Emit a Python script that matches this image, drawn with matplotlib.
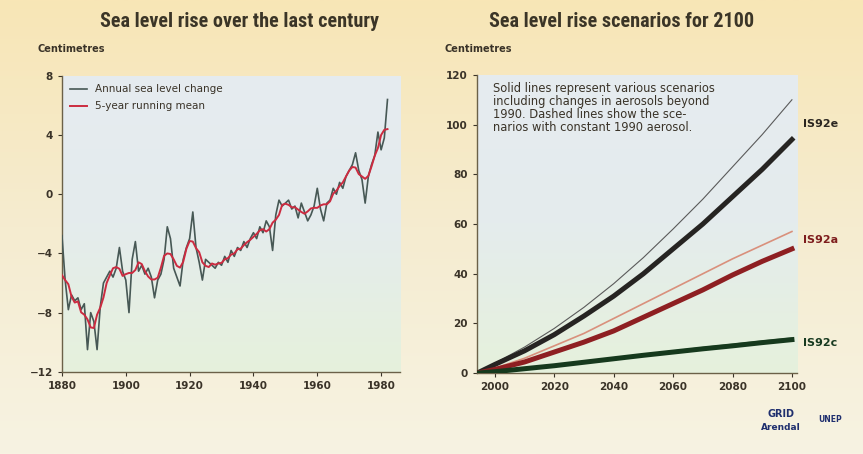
import numpy as np
import pandas as pd
import matplotlib
matplotlib.use("Agg")
import matplotlib.pyplot as plt
from matplotlib.colors import LinearSegmentedColormap

# ---- data: observed sea level (cm), 1880-1982
years_obs = np.arange(1880, 1983)
annual = [
    -2.8, -5.8, -7.8, -6.8, -7.2, -7.0, -7.8, -7.4, -10.5, -8.0,
    -8.6, -10.5, -7.6, -6.0, -5.6, -5.2, -5.6, -5.0, -3.6, -5.2,
    -5.8, -8.0, -4.4, -3.2, -5.2, -4.8, -5.4, -5.0, -5.6, -7.0,
    -5.8, -5.4, -4.4, -2.2, -3.0, -5.0, -5.6, -6.2, -4.4, -3.6,
    -3.0, -1.2, -3.6, -4.6, -5.8, -4.4, -4.6, -4.8, -5.0, -4.6,
    -4.8, -4.2, -4.6, -3.8, -4.2, -3.6, -3.8, -3.2, -3.6, -3.0,
    -2.6, -3.0, -2.2, -2.6, -1.8, -2.2, -3.8, -1.4, -0.4, -0.8,
    -0.6, -0.4, -1.0, -0.8, -1.6, -0.6, -1.2, -1.8, -1.4, -0.8,
    0.4, -1.0, -1.8, -0.6, -0.4, 0.4, 0.0, 0.8, 0.4, 1.2,
    1.6, 2.0, 2.8, 1.6, 1.0, -0.6, 1.2, 2.0, 2.6, 4.2,
    3.0, 3.8, 6.4,
]
running = pd.Series(annual, index=years_obs).rolling(5, center=True, min_periods=3).mean()

# ---- data: scenarios (cm)
years_scn = [1994, 2000, 2010, 2020, 2030, 2040, 2050, 2060, 2070, 2080, 2090, 2100]
is92e_solid = [0, 3.5, 9, 15.5, 23, 31, 40, 50, 60, 71, 82, 94]
is92e_const = [0, 4, 10.5, 18, 26.5, 36, 46.5, 58, 70, 83, 96, 110]
is92a_solid = [0, 1.5, 4.5, 8.5, 12.5, 17, 22.5, 28, 33.5, 39.5, 45, 50]
is92a_const = [0, 2, 6, 11, 16, 22, 28, 34, 40, 46, 51.5, 57]
is92c_solid = [0, 0.6, 1.8, 3, 4.4, 5.8, 7.2, 8.5, 9.8, 11, 12.3, 13.5]
is92c_const = [0, 0.7, 2, 3.3, 4.8, 6.2, 7.6, 9, 10.4, 11.7, 13, 14.2]

txt = "#3a3328"
title_font = ["Roboto Condensed", "Roboto", "DejaVu Sans"]
fig = plt.figure(figsize=(8.63, 4.54), dpi=100)

# page background gradient
bg = fig.add_axes([0, 0, 1, 1], zorder=-10)
bg_cmap = LinearSegmentedColormap.from_list("bg", ["#f8e6b6", "#f5ecd0", "#f7f3e2"])
bg.imshow(np.linspace(0, 1, 256).reshape(-1, 1), aspect="auto", cmap=bg_cmap,
          extent=[0, 1, 0, 1], origin="upper")
bg.axis("off")

panel_cmap = LinearSegmentedColormap.from_list("pn", ["#e6ebf0", "#e4eced", "#e6f1dc"])


def panel_bg(ax):
    ax.imshow(np.linspace(0, 1, 256).reshape(-1, 1), aspect="auto", cmap=panel_cmap,
              extent=[0, 1, 0, 1], origin="upper", transform=ax.transAxes, zorder=0)


def style(ax):
    for s in ["top", "right"]:
        ax.spines[s].set_visible(False)
    for s in ["left", "bottom"]:
        ax.spines[s].set_color("#6b6148")
        ax.spines[s].set_linewidth(1.0)
    ax.tick_params(colors=txt, labelsize=7.5, length=3, width=0.8)
    for lab in ax.get_xticklabels() + ax.get_yticklabels():
        lab.set_fontweight("bold")


# ---- left panel
ax1 = fig.add_axes([0.0718, 0.181, 0.392, 0.652])
panel_bg(ax1)
ax1.plot(years_obs, annual, color="#475855", lw=1.2, zorder=3, label="Annual sea level change")
ax1.plot(years_obs, running.values, color="#cc2b40", lw=1.4, zorder=4, label="5-year running mean")
ax1.set_xlim(1880, 1986)
ax1.set_ylim(-12, 8)
ax1.set_xticks([1880, 1900, 1920, 1940, 1960, 1980])
ax1.set_yticks([8, 4, 0, -4, -8, -12])
style(ax1)
leg = ax1.legend(loc="upper left", frameon=False, fontsize=7.5, handlelength=1.6,
                 borderaxespad=0.4, labelspacing=0.7)
for t in leg.get_texts():
    t.set_color(txt)
fig.text(0.043, 0.885, "Centimetres", fontsize=7, fontweight="bold", color=txt)
fig.text(0.278, 0.952, "Sea level rise over the last century", ha="center", va="center",
         fontsize=14.5, fontweight="bold", color="#3b3527", family=title_font)

# ---- right panel
ax2 = fig.add_axes([0.5527, 0.178, 0.3708, 0.657])
panel_bg(ax2)
ax2.plot(years_scn, is92e_const, color="#5a5a5a", lw=0.8, zorder=3)
ax2.plot(years_scn, is92a_const, color="#d9907c", lw=1.2, zorder=3)
ax2.plot(years_scn, is92c_const, color="#6a8f6a", lw=0.8, zorder=3)
ax2.plot(years_scn, is92e_solid, color="#262422", lw=3.6, zorder=4)
ax2.plot(years_scn, is92a_solid, color="#8e1f22", lw=3.6, zorder=4)
ax2.plot(years_scn, is92c_solid, color="#16391d", lw=3.6, zorder=4)
ax2.set_xlim(1994, 2101.7)
ax2.set_ylim(0, 120)
ax2.set_xticks([2000, 2020, 2040, 2060, 2080, 2100])
ax2.set_yticks([0, 20, 40, 60, 80, 100, 120])
style(ax2)
ax2.annotate("IS92e", xy=(1.018, 0.836), xycoords="axes fraction", fontsize=8,
             fontweight="bold", color="#2b2620", va="center")
ax2.annotate("IS92a", xy=(1.018, 0.446), xycoords="axes fraction", fontsize=8,
             fontweight="bold", color="#7e1d1d", va="center")
ax2.annotate("IS92c", xy=(1.018, 0.10), xycoords="axes fraction", fontsize=8,
             fontweight="bold", color="#183a20", va="center")
ax2.text(0.05, 0.975, "Solid lines represent various scenarios\nincluding changes in aerosols beyond\n"
         "1990. Dashed lines show the sce-\nnarios with constant 1990 aerosol.",
         transform=ax2.transAxes, va="top", ha="left", fontsize=8.3, color=txt,
         linespacing=1.0, zorder=5)
fig.text(0.515, 0.885, "Centimetres", fontsize=7, fontweight="bold", color=txt)
fig.text(0.72, 0.952, "Sea level rise scenarios for 2100", ha="center", va="center",
         fontsize=14.5, fontweight="bold", color="#3b3527", family=title_font)

# ---- logo
fig.text(0.905, 0.082, "GRID", fontsize=7, fontweight="bold", color="#1f2f6e", ha="center")
fig.text(0.905, 0.052, "Arendal", fontsize=6.5, fontweight="bold", color="#1f2f6e", ha="center")
fig.text(0.962, 0.07, "UNEP", fontsize=5.5, fontweight="bold", color="#1f2f6e", ha="center")

fig.savefig("out.png", dpi=100)
